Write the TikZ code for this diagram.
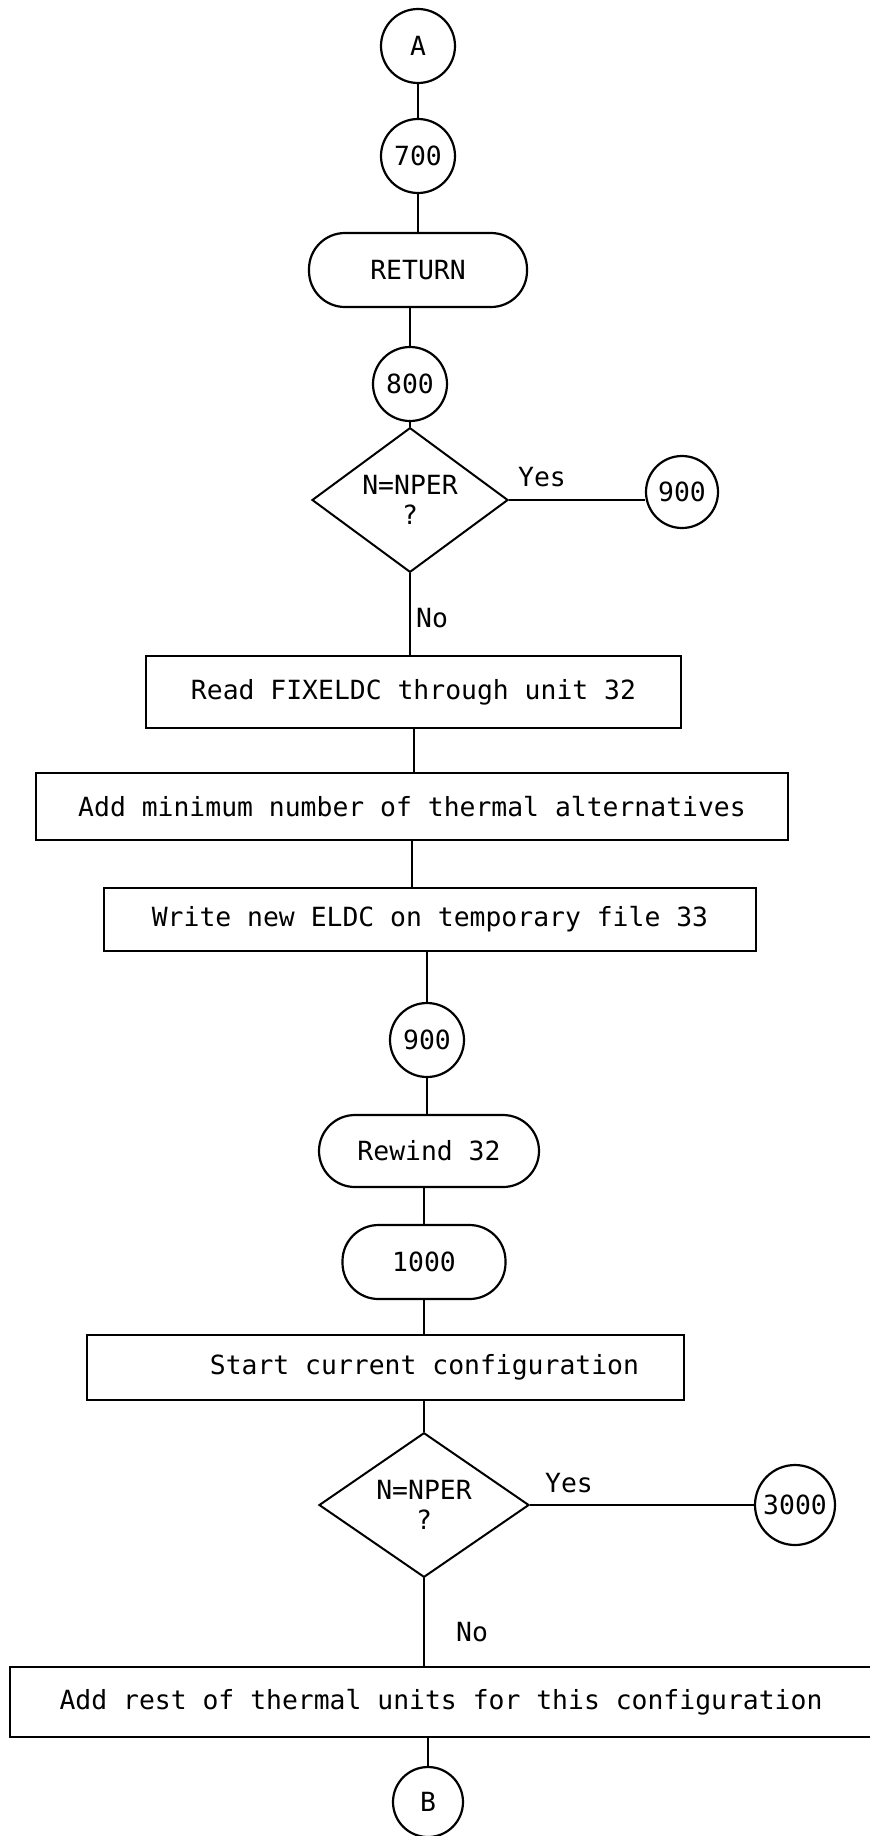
\documentclass[tikz,border=0pt]{standalone}
\usepackage{fontspec}
\newfontfamily\flowfont{DejaVu Sans Mono}
\usetikzlibrary{shapes.geometric}
\tikzset{
  every node/.style={font=\flowfont\fontsize{13.2}{15}\selectfont},
  connector/.style={draw, circle, line width=1.1pt, inner sep=0pt, minimum size=37pt},
  terminal/.style={draw, rectangle, rounded corners=18pt, line width=1.1pt, inner sep=0pt},
  stepbox/.style={draw, rectangle, line width=1pt, inner sep=0pt},
  decision/.style={draw, diamond, line width=1pt, inner sep=0pt, align=center},
  flowline/.style={line width=1pt}
}

\begin{document}
\begin{tikzpicture}[x=0.5pt,y=-0.5pt]
  \useasboundingbox (0,0) rectangle (870,1836);

  % Entry and first test
  \node[connector] (A) at (418,46) {A};
  \node[connector] (n700) at (418,156) {700};
  \node[terminal, minimum width=109pt, minimum height=37pt] (ret) at (418,270) {RETURN};
  \node[connector] (n800) at (410,384) {800};
  \node[decision, minimum width=98pt, minimum height=68pt] (dec1) at (410,500) {N=NPER\\?};
  \node[connector, minimum size=36pt] (n900a) at (682,492) {900};
  \node (yes1) at (542,477) {Yes};
  \node (no1) at (432,618) {No};

  % Processing boxes
  \node[stepbox, minimum width=267.5pt, minimum height=36pt] (read) at (413.5,692) {Read FIXELDC through unit 32};
  \node[stepbox, minimum width=376pt, minimum height=33.5pt] (add) at (412,806.5) {Add minimum number of thermal alternatives};
  \node[stepbox, minimum width=326pt, minimum height=31.5pt] (write) at (430,919.5) {Write new ELDC on temporary file 33};

  % Rewind and second test
  \node[connector] (n900b) at (427,1040) {900};
  \node[terminal, minimum width=110pt, minimum height=36pt] (rew) at (429,1151) {Rewind 32};
  \node[terminal, minimum width=81.5pt, minimum height=37pt] (n1000) at (424,1262) {1000};
  \node[stepbox, minimum height=32.5pt, text width=253.5pt, inner xsep=22.5pt, align=flush right] (start) at (385.5,1367) {Start current configuration};
  \node[decision, minimum width=105pt, minimum height=68.5pt, font=\flowfont\fontsize{13.2}{13}\selectfont] (dec2) at (424,1505) {N=NPER\\[2pt]?};
  \node[connector, minimum size=40pt] (n3000) at (795,1505) {3000};
  \node (yes2) at (569,1483) {Yes};
  \node (no2) at (472,1632) {No};
  \node[stepbox, minimum width=431pt, minimum height=35pt] (rest) at (441,1702) {Add rest of thermal units for this configuration};
  \node[connector, minimum size=35pt] (B) at (428,1802) {B};

  % Flow lines
  \draw[flowline] (A) -- (n700);
  \draw[flowline] (n700) -- (ret);
  \draw[flowline] (ret.south -| n800) -- (n800);
  \draw[flowline] (n800) -- (dec1);
  \draw[flowline] (dec1.east) -- (dec1.east -| n900a.west);
  \draw[flowline] (dec1) -- (dec1 |- read.north);
  \draw[flowline] (read) -- (read |- add.north);
  \draw[flowline] (add) -- (add |- write.north);
  \draw[flowline] (n900b |- write.south) -- (n900b);
  \draw[flowline] (n900b) -- (n900b |- rew.north);
  \draw[flowline] (n1000 |- rew.south) -- (n1000);
  \draw[flowline] (n1000) -- (n1000 |- start.north);
  \draw[flowline] (dec2 |- start.south) -- (dec2);
  \draw[flowline] (dec2) -- (n3000);
  \draw[flowline] (dec2) -- (dec2 |- rest.north);
  \draw[flowline] (B |- rest.south) -- (B);
\end{tikzpicture}
\end{document}
